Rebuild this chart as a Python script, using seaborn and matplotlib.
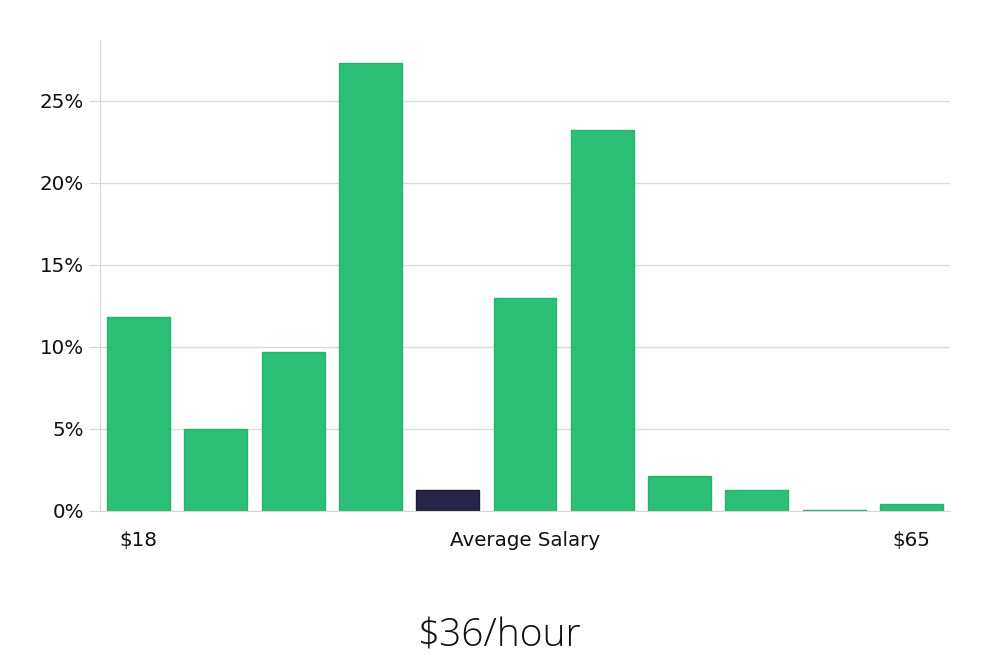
import matplotlib
matplotlib.use('Agg')
import matplotlib.pyplot as plt
import pandas as pd
import seaborn as sns
from matplotlib.ticker import FuncFormatter

# salary distribution, share of jobs per bin (%)
bins = list(range(11))
shares = [11.8, 5.0, 9.7, 27.3, 1.3, 13.0, 23.2, 2.1, 1.3, 0.06, 0.4]
is_avg = [False, False, False, False, True, False, False, False, False, False, False]
tick_pos = [0, 5, 10]
tick_labels = ["$18", "Average Salary", "$65"]
title = "$36/hour"

green = "#2bbf77"
dark = "#27244a"


def graph_plot():
    data = pd.DataFrame({"bin": bins, "share": shares,
                         "kind": ["avg" if a else "other" for a in is_avg]})

    sns.set_style("white")
    plt.rcParams['font.family'] = ['DejaVu Sans']
    fig = plt.figure(figsize=(10, 6.6), dpi=100)
    ax = fig.add_axes([0.1, 0.226, 0.85, 0.713])

    sns.barplot(data=data, x="bin", y="share", hue="kind",
                palette={"avg": dark, "other": green}, dodge=False,
                saturation=1, width=0.815, legend=False, ax=ax)
    for patch in ax.patches:
        fc = patch.get_facecolor()
        if fc[1] < 0.5:
            patch.set_edgecolor("#1c1a36")
        else:
            patch.set_edgecolor("#22b56c")
        patch.set_linewidth(1)

    ax.set_xlim(-0.5, 10.5)
    ax.set_ylim(0, 28.7)
    ax.set_yticks([0, 5, 10, 15, 20, 25])
    ax.yaxis.set_major_formatter(FuncFormatter(lambda v, p: f"{v:.0f}%"))
    ax.set_xticks(tick_pos)
    ax.set_xticklabels(tick_labels)
    ax.set_xlabel("")
    ax.set_ylabel("")

    ax.grid(axis="y", color="#dcdcdc", linewidth=1)
    ax.set_axisbelow(True)
    for side in ["top", "right"]:
        ax.spines[side].set_visible(False)
    ax.spines["left"].set_color("#d6d6d6")
    ax.spines["bottom"].set_color("#d6d6d6")
    ax.tick_params(axis="y", length=8, color="#d6d6d6", labelsize=14.3,
                   labelcolor="#111111", pad=3.5, left=True)
    ax.tick_params(axis="x", length=0, labelsize=14.3, labelcolor="#111111", pad=14.5)

    fig.text(0.5, 0.02, title, ha="center", va="baseline", fontsize=28,
             family=["Open Sans", "DejaVu Sans"], fontweight="light", color="#111111")

    plt.savefig("out.png", dpi=100)


if __name__ == '__main__':
    graph_plot()
